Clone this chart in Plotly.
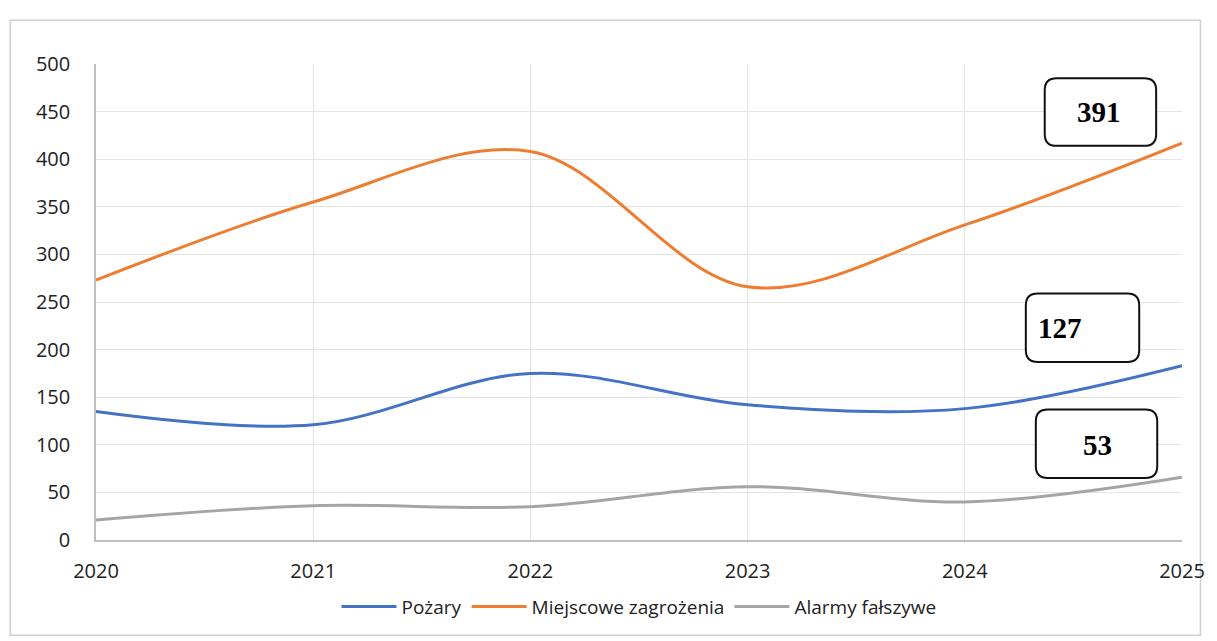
import plotly.graph_objects as go

years = [2020, 2021, 2022, 2023, 2024, 2025]
pozary = [135, 121, 175, 142, 138, 183]
miejscowe = [273, 355, 408, 266, 331, 417]
alarmy = [21, 36, 35, 56, 40, 66]

labels = ["391", "127", "53"]
y_ticks = list(range(0, 501, 50))


def rounded_box(x0, x1, y0, y1, rx, ry):
    return (f"M {x0+rx},{y0} L {x1-rx},{y0} Q {x1},{y0} {x1},{y0+ry} "
            f"L {x1},{y1-ry} Q {x1},{y1} {x1-rx},{y1} L {x0+rx},{y1} "
            f"Q {x0},{y1} {x0},{y1-ry} L {x0},{y0+ry} Q {x0},{y0} {x0+rx},{y0} Z")


fig = go.Figure()
fig.add_trace(go.Scatter(x=years, y=pozary, name="Pożary", mode="lines",
                         line=dict(color="#4472C4", width=3, shape="spline", smoothing=1.0)))
fig.add_trace(go.Scatter(x=years, y=miejscowe, name="Miejscowe zagrożenia", mode="lines",
                         line=dict(color="#ED7D31", width=3, shape="spline", smoothing=1.0)))
fig.add_trace(go.Scatter(x=years, y=alarmy, name="Alarmy fałszywe", mode="lines",
                         line=dict(color="#A5A5A5", width=3, shape="spline", smoothing=1.0)))

# rounded label boxes (x0, x1, y0, y1, text x, text y)
boxes = [
    (2024.368, 2024.881, 414, 485, 2024.62, 450),
    (2024.281, 2024.803, 187, 259, 2024.44, 223),
    (2024.327, 2024.886, 65, 137, 2024.61, 100),
]
rx, ry = 0.055, 12.6
for (x0, x1, y0, y1, tx, ty), lab in zip(boxes, labels):
    fig.add_shape(type="path", path=rounded_box(x0, x1, y0, y1, rx, ry),
                  xref="x", yref="y", line=dict(color="#111111", width=2),
                  fillcolor="white", layer="above")
    fig.add_annotation(x=tx, y=ty, text=f"<b>{lab}</b>", showarrow=False,
                       font=dict(family="Liberation Serif", size=29, color="black"))

# outer chart frame
fig.add_shape(type="rect", xref="paper", yref="paper", x0=-0.079, x1=1.017,
              y0=-0.2, y1=1.092, line=dict(color="#D0D0D0", width=1.5), layer="below")

# page body has an 8px margin, so the figure is made 8px smaller
fig.update_layout(
    width=1209, height=633,
    margin=dict(l=88, r=29, t=56, b=101),
    plot_bgcolor="white", paper_bgcolor="white",
    font=dict(family="Open Sans", size=19, color="#222222"),
    showlegend=True,
    legend=dict(orientation="h", x=0.5, xanchor="center", y=-0.1, yanchor="top",
                bgcolor="rgba(0,0,0,0)", font=dict(size=19, color="#222222"),
                itemwidth=55),
    xaxis=dict(range=[2020, 2025], tickvals=years, showgrid=True, gridcolor="#E4E4E4",
               showline=True, linecolor="#BFBFBF", linewidth=1.5, zeroline=False,
               ticks="", ticklabelstandoff=12, tickfont=dict(size=20)),
    yaxis=dict(range=[0, 500], tickvals=y_ticks, showgrid=True, gridcolor="#E4E4E4",
               showline=True, linecolor="#BFBFBF", linewidth=1.5, zeroline=False,
               ticks="", ticklabelstandoff=20, tickfont=dict(size=20)),
)

fig.write_html("out.html")
